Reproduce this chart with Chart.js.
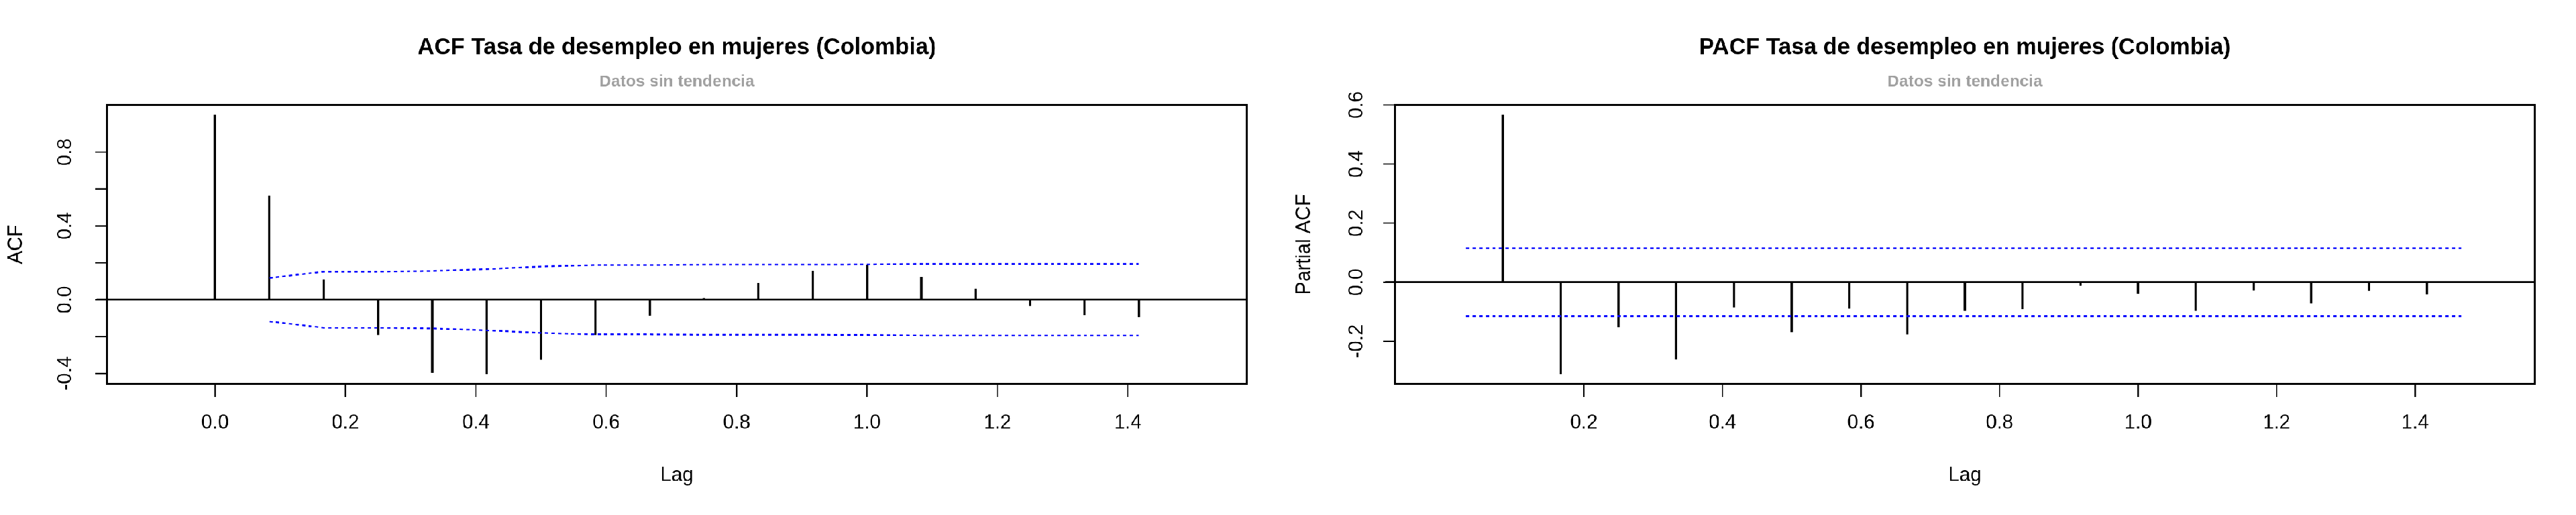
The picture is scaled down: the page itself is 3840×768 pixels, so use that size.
<!DOCTYPE html>
<html>
<head>
<meta charset="utf-8">
<script src="https://cdn.jsdelivr.net/npm/chart.js@4"></script>
<style>
  html, body { margin: 0; padding: 0; background: #fff; width: 3840px; height: 768px; overflow: hidden; }
  #stage { width: 3840px; height: 768px; position: relative; overflow: hidden; }
  #wrap { position: absolute; left: 0; top: 0; width: 1568px; height: 314px; transform: scale(2.449, 2.446); transform-origin: 0 0; display: flex; }
  .cell { width: 784px; height: 314px; position: relative; }
</style>
</head>
<body>
<div id="stage">
<div id="wrap">
  <div class="cell"><canvas id="acf" width="784" height="314"></canvas></div>
  <div class="cell"><canvas id="pacf" width="784" height="314"></canvas></div>
</div>
</div>
<script>
  // Lags in years (monthly series, lag k/12)
  var ACF_LAGS = [0, 0.0833, 0.1667, 0.25, 0.3333, 0.4167, 0.5, 0.5833, 0.6667, 0.75, 0.8333, 0.9167, 1.0, 1.0833, 1.1667, 1.25, 1.3333, 1.4167];
  var ACF_VALUES = [1.0, 0.562, 0.108, -0.188, -0.394, -0.40, -0.324, -0.188, -0.085, 0.005, 0.087, 0.155, 0.187, 0.12, 0.055, -0.03, -0.081, -0.091];
  // MA-type confidence band from lag 1 onward
  var ACF_BAND_LAGS = ACF_LAGS.slice(1);
  var ACF_BAND = [0.118, 0.152, 0.152, 0.156, 0.166, 0.180, 0.188, 0.188, 0.190, 0.190, 0.190, 0.191, 0.194, 0.194, 0.194, 0.194, 0.194];

  var PACF_LAGS = ACF_LAGS.slice(1);
  var PACF_VALUES = [0.565, -0.309, -0.15, -0.259, -0.084, -0.167, -0.087, -0.175, -0.095, -0.089, -0.011, -0.037, -0.095, -0.026, -0.069, -0.027, -0.039];
  var PACF_BAND = 0.1155;

  var ACF_XTICKS = [0, 0.2, 0.4, 0.6, 0.8, 1.0, 1.2, 1.4];
  var PACF_XTICKS = [0.2, 0.4, 0.6, 0.8, 1.0, 1.2, 1.4];
  var ACF_YTICKS = [-0.4, -0.2, 0, 0.2, 0.4, 0.6, 0.8];
  var ACF_YLABELS = [-0.4, 0, 0.4, 0.8];
  var PACF_YTICKS = [-0.2, 0, 0.2, 0.4, 0.6];
  var PACF_YLABELS = [-0.2, 0, 0.2, 0.4, 0.6];

  var FONT = "'Liberation Sans', Arial, sans-serif";
  var BAND_BLUE = "#0000ff";

  function pts(xs, ys) {
    return xs.map(function (x, i) { return { x: x, y: ys[i] }; });
  }
  function fmt(v) { return v.toFixed(1); }

  // R-style decorations: box, zero line, ticks, rotated y labels, titles
  function rDecor(cfg) {
    return {
      id: "rdecor",
      beforeDatasetsDraw: function (chart) {
        var ctx = chart.ctx, a = chart.chartArea, ys = chart.scales.y;
        ctx.save();
        ctx.strokeStyle = "#000";
        ctx.lineWidth = 1.2;
        var y0 = ys.getPixelForValue(0);
        ctx.beginPath(); ctx.moveTo(a.left - 6, y0); ctx.lineTo(a.right, y0); ctx.stroke();
        ctx.restore();
      },
      afterDraw: function (chart) {
        var ctx = chart.ctx, a = chart.chartArea, xs = chart.scales.x, ys = chart.scales.y;
        ctx.save();
        ctx.strokeStyle = "#000";
        ctx.lineWidth = 1.3;
        ctx.strokeRect(a.left, a.top, a.right - a.left, a.bottom - a.top);
        ctx.lineWidth = 0.8;
        ctx.fillStyle = "#000";
        ctx.font = "12px " + FONT;
        ctx.textAlign = "center";
        ctx.textBaseline = "middle";
        cfg.xticks.forEach(function (t) {
          var x = xs.getPixelForValue(t);
          ctx.beginPath(); ctx.moveTo(x, a.bottom); ctx.lineTo(x, a.bottom + 8); ctx.stroke();
          ctx.fillText(fmt(t), x, 258);
        });
        cfg.yticks.forEach(function (t) {
          var y = ys.getPixelForValue(t);
          ctx.beginPath(); ctx.moveTo(a.left, y); ctx.lineTo(a.left - 7, y); ctx.stroke();
        });
        cfg.ylabels.forEach(function (t) {
          var y = ys.getPixelForValue(t);
          ctx.save();
          ctx.translate(cfg.ytickX, y);
          ctx.rotate(-Math.PI / 2);
          ctx.fillText(fmt(t), 0, 0);
          ctx.restore();
        });
        ctx.fillText("Lag", (a.left + a.right) / 2, 290);
        ctx.save();
        ctx.translate(cfg.ytitleX, (a.top + a.bottom) / 2);
        ctx.rotate(-Math.PI / 2);
        ctx.fillText(cfg.ytitle, 0, 0);
        ctx.restore();
        var cx = (a.left + a.right) / 2;
        ctx.font = "bold 14px " + FONT;
        ctx.fillText(cfg.title, cx, 29);
        ctx.fillStyle = "#a0a0a0";
        ctx.font = "bold 10px " + FONT;
        ctx.fillText("Datos sin tendencia", cx, 50);
        ctx.restore();
      }
    };
  }

  function baseOpts(xmin, xmax, ymin, ymax, padLeft) {
    return {
      responsive: false, maintainAspectRatio: false, animation: false, devicePixelRatio: 3,
      layout: { padding: { left: padLeft, right: 25, top: 64, bottom: 80 } },
      plugins: { legend: { display: false }, tooltip: { enabled: false } },
      scales: {
        x: { type: "linear", min: xmin, max: xmax, display: true, grid: { display: false }, border: { display: false },
             ticks: { display: false }, afterFit: function (s) { s.height = 0; } },
        y: { type: "linear", min: ymin, max: ymax, display: true, grid: { display: false }, border: { display: false },
             ticks: { display: false }, afterFit: function (s) { s.width = 0; } }
      }
    };
  }

  var dash = { type: "line", borderColor: BAND_BLUE, borderWidth: 1, borderDash: [2, 2], pointRadius: 0, fill: false, tension: 0 };

  new Chart(document.getElementById("acf"), {
    type: "bar",
    data: { datasets: [
      { data: pts(ACF_LAGS, ACF_VALUES), backgroundColor: "#000", barThickness: 0.7, order: 2 },
      Object.assign({ data: pts(ACF_BAND_LAGS, ACF_BAND), order: 1 }, dash),
      Object.assign({ data: pts(ACF_BAND_LAGS, ACF_BAND.map(function (v) { return -v; })), order: 1 }, dash)
    ] },
    options: baseOpts(-0.0567, 1.4733, -0.456, 1.056, 65),
    plugins: [rDecor({ xticks: ACF_XTICKS, yticks: ACF_YTICKS, ylabels: ACF_YLABELS, ytickX: 40, ytitleX: 10,
      ytitle: "ACF", title: "ACF Tasa de desempleo en mujeres (Colombia)" })]
  });

  new Chart(document.getElementById("pacf"), {
    type: "bar",
    data: { datasets: [
      { data: pts(PACF_LAGS, PACF_VALUES), backgroundColor: "#000", barThickness: 0.7, order: 2 },
      Object.assign({ data: [{ x: 0.03, y: PACF_BAND }, { x: 1.47, y: PACF_BAND }], order: 1 }, dash),
      Object.assign({ data: [{ x: 0.03, y: -PACF_BAND }, { x: 1.47, y: -PACF_BAND }], order: 1 }, dash)
    ] },
    options: baseOpts(0.03, 1.47, -0.344, 0.6, 65),
    plugins: [rDecor({ xticks: PACF_XTICKS, yticks: PACF_YTICKS, ylabels: PACF_YLABELS, ytickX: 42, ytitleX: 10,
      ytitle: "Partial ACF", title: "PACF Tasa de desempleo en mujeres (Colombia)" })]
  });
</script>
</body>
</html>
